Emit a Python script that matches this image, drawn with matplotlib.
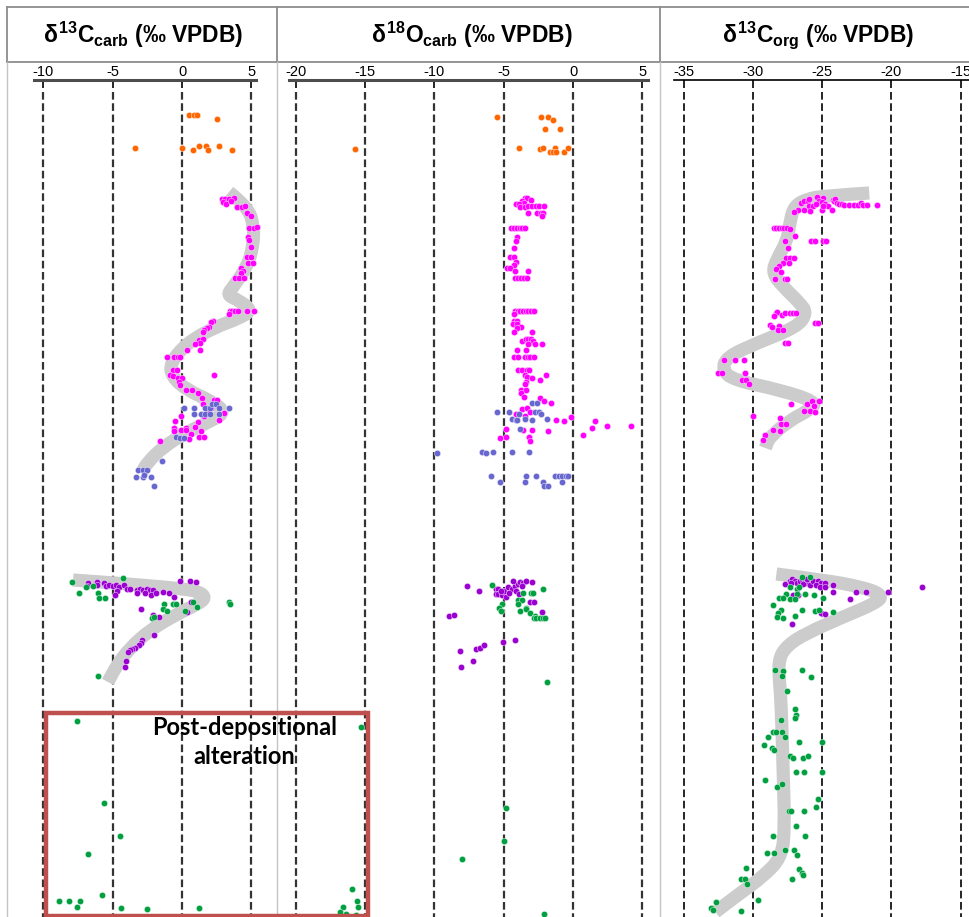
import numpy as np
import matplotlib
matplotlib.use("Agg")
import matplotlib.pyplot as plt
from matplotlib.path import Path
from matplotlib.patches import PathPatch, Rectangle

plt.rcParams['lines.scale_dashes'] = False
plt.rcParams['mathtext.fontset'] = 'custom'
plt.rcParams['mathtext.rm'] = 'Liberation Sans:bold'
plt.rcParams['mathtext.it'] = 'Liberation Sans:bold'
plt.rcParams['mathtext.bf'] = 'Liberation Sans:bold'
plt.rcParams['mathtext.sf'] = 'Liberation Sans:bold'

# ---- data: (value in permil, stratigraphic level) ----
# d13C carb
c13_orange = [(0.5,115),(0.9,115),(1.1,115),(2.5,119),(-3.4,148),(0.0,148),(0.8,150),
              (1.2,146),(1.7,146),(1.9,150),(2.7,146),(3.6,150)]
c13_magenta = [(2.86,199),(3.1,199),(3.39,199),(3.75,198),(2.96,202),(3.17,204),(3.53,201),
               (3.97,207),(4.33,207),(4.54,206),(4.69,213),(4.97,216),(4.83,228),(5.19,228),
               (5.41,227),(4.76,237),(4.83,240),(4.97,247),(4.69,257),(4.97,257),(4.76,263),
               (5.12,263),(4.25,268),(4.4,271),(4.25,273),(3.82,278),(4.11,278),(4.47,278),
               (3.46,311),(3.6,311),(3.82,311),(4.04,311),(4.69,311),(5.19,311),(3.39,314),
               (2.24,321),(2.09,322),(1.95,327),(1.8,328),(1.59,330),(1.51,332),(1.23,340),
               (1.51,339),(1.3,343),(0.94,344),(1.3,350),(0.36,350),(-1.08,357),(-0.58,357),
               (-0.29,357),(-0.14,357),(-0.65,370),(-0.36,370),(-0.87,375),(-0.65,376),
               (2.31,375),(-0.29,378),(0.0,378),(-0.22,382),(-0.14,385),(0.29,390),(0.72,390),
               (1.15,393),(1.44,398),(2.31,400),(2.52,400),(1.51,404),(2.09,408),(1.8,410),
               (1.95,413),(3.03,413),(1.59,416),(-0.07,416),(2.67,420),(1.15,422),(-0.5,421),
               (-0.58,428),(0.29,428),(0.94,427),(-0.07,430),(0.29,430),(1.37,431),(-0.58,431),
               (0.65,434),(1.23,437),(1.59,437),(0.5,439),(-1.59,441)]
c13_blue = [(0.14,408),(0.87,408),(1.66,408),(2.02,408),(2.16,404),(2.45,404),(2.67,408),
            (3.39,408),(0.87,414),(1.37,414),(1.66,414),(2.02,414),(2.67,414),(-0.43,437),
            (-0.14,438),(0.14,438),(-1.44,461),(-3.17,470),(-2.81,470),(-2.52,470),
            (-3.32,477),(-2.81,477),(-2.24,477),(-2.02,486),(-2.74,475)]
c13_purple = [(-6.78,583),(-6.85,586),(-6.13,582),(-6.13,585),(-5.62,583),(-5.48,586),
              (-5.26,585),(-4.97,586),(-4.76,585),(-4.54,587),(-4.18,585),(-3.97,589),
              (-3.75,589),(-4.69,591),(-4.83,595),(-3.24,590),(-3.03,589),(-2.81,590),
              (-2.52,589),(-2.31,590),(-2.09,590),(-3.24,593),(-2.67,593),(-2.24,595),
              (-1.87,593),(-1.37,592),(-0.94,593),(-0.58,597),(-0.14,581),(0.58,581),
              (1.01,582),(0.65,602),(0.36,612),(-2.96,609),(-2.09,615),(-1.66,617),
              (-2.02,635),(-2.88,640),(-2.96,643),(-3.1,645),(-3.39,648),(-3.6,649),
              (-3.75,650),(-3.89,652),(-4.04,661),(-4.11,667)]
c13_green = [(-7.93,582),(-7.43,593),(-6.92,587),(-6.42,586),(-6.06,593),(-5.98,598),
             (-5.55,598),(-4.25,578),(-1.3,604),(-1.37,609),(-1.08,611),(-0.65,604),
             (-0.43,604),(0.22,611),(0.79,602),(1.08,607),(-2.16,618),(-2.02,617),
             (3.39,602),(3.46,604),(-6.06,676),(-7.57,721),(-5.62,803),(-4.47,836),
             (-6.78,854),(-5.77,895),(-8.87,901),(-8.15,901),(-7.35,901),(-7.57,907),
             (-4.4,908),(-2.52,909),(1.23,908)]
c13_trend_upper = [(3.39,192),(4.76,207),(5.19,227),(5.12,247),(4.69,267),(3.68,287),
                   (3.24,295),(4.04,300),(5.05,310),(4.18,318),(2.24,328),(0.36,343),
                   (-0.87,363),(-0.72,377),(0.36,390),(2.24,402),(3.1,412),(2.24,420),
                   (0.36,432),(-1.37,447),(-2.52,463),(-2.88,472)]
c13_trend_lower = [(-7.86,580),(-3.75,584),(0.22,589),(1.3,592),(1.7,598),(1.15,604),
                   (-0.36,614),(-2.31,630),(-3.75,648),(-4.69,665),(-5.34,682)]

# d18O carb
o18_orange = [(-5.5,117),(-2.33,117),(-1.78,117),(-1.42,120),(-2.0,129),(-0.94,129),
              (-15.7,149),(-3.9,148),(-2.4,149),(-2.2,148),(-1.3,148),(-1.66,152),
              (-1.44,152),(-1.2,152),(-0.65,152),(-0.4,148)]
o18_magenta = [(-3.46,198),(-3.29,198),(-3.0,200),(-3.7,201),(-3.53,203),(-4.11,204),
               (-3.89,204),(-3.82,207),(-3.49,207),(-3.25,206),(-2.98,206),(-2.69,206),
               (-2.45,206),(-2.07,206),(-3.25,213),(-2.57,213),(-2.33,213),(-2.14,213),
               (-2.24,216),(-4.47,228),(-4.25,228),(-4.04,228),(-3.85,228),(-3.65,228),
               (-3.46,228),(-4.01,237),(-4.13,241),(-4.23,248),(-4.52,257),(-4.28,257),
               (-4.09,262),(-4.28,265),(-4.76,268),(-4.57,268),(-4.2,271),(-3.27,271),
               (-4.2,278),(-3.99,278),(-3.77,278),(-3.53,278),(-3.34,278),
               (-4.18,311),(-3.99,311),(-3.8,311),(-3.61,311),(-3.41,311),(-3.22,311),
               (-3.03,311),(-2.84,311),(-4.28,314),(-4.23,321),(-4.01,321),(-4.3,324),
               (-4.06,324),(-3.77,327),(-4.06,328),(-4.23,332),(-2.98,332),(-3.65,341),
               (-3.41,339),(-3.22,339),(-3.05,339),(-2.88,341),(-3.22,344),(-2.74,344),
               (-2.24,344),(-4.01,350),(-3.41,350),(-4.23,357),(-3.99,357),(-3.46,357),
               (-3.27,357),(-3.08,357),(-2.81,357),(-3.99,370),(-3.7,370),(-3.34,370),
               (-3.15,370),(-3.46,375),(-1.92,375),(-3.32,377),(-2.98,378),(-2.38,380),
               (-3.37,382),(-3.46,384),(-3.73,390),(-3.41,390),(-3.73,393),(-3.56,397),
               (-2.4,398),(-2.12,401),(-1.61,403),(-3.68,409),(-3.29,408),(-4.11,414),
               (-3.46,416),(-3.08,412),(-1.2,420),(-0.67,421),(-0.12,417),(1.56,421),
               (2.45,426),(4.18,426),(1.37,428),(0.72,435),(-1.8,431),(-2.93,430),
               (-3.63,430),(-4.83,429),(-5.24,438),(-4.81,437),(-3.2,437),(-3.13,441)]
o18_blue = [(-2.98,403),(-2.57,403),(-5.48,412),(-4.59,412),(-3.87,414),(-2.72,412),
            (-2.48,412),(-2.31,414),(-4.42,419),(-4.11,420),(-4.01,420),(-3.44,419),
            (-2.98,420),(-1.85,419),(-3.82,429),(-9.81,453),(-6.59,452),(-6.25,453),
            (-5.75,452),(-4.4,452),(-3.15,452),(-5.91,476),(-5.29,482),(-3.37,476),
            (-2.69,476),(-3.46,482),(-2.16,482),(-2.12,486),(-1.78,486),(-1.27,476),
            (-1.01,476),(-0.77,476),(-0.53,476),(-0.36,476),(-0.79,482)]
o18_purple = [(-7.62,586),(-6.8,591),(-8.97,616),(-8.56,615),(-5.58,589),(-5.38,589),
              (-5.58,594),(-5.38,594),(-5.14,595),(-4.81,597),(-4.98,591),(-4.71,587),
              (-4.38,589),(-4.18,586),(-3.94,584),(-3.82,582),(-3.61,583),(-3.37,581),
              (-4.35,581),(-2.96,582),(-3.7,586),(-4.09,591),(-3.87,594),(-3.1,602),
              (-2.84,602),(-2.24,612),(-5.02,642),(-4.18,640),(-8.15,651),(-7.02,649),
              (-6.7,648),(-6.39,645),(-7.24,661),(-8.05,667),(-4.62,593),(-5.19,591)]
o18_green = [(-5.84,585),(-2.19,589),(-3.63,593),(-3.05,593),(-2.86,593),(-3.99,600),
             (-3.7,600),(-3.99,604),(-5.1,604),(-5.34,608),(-5.22,611),(-3.8,611),
             (-3.41,608),(-3.37,609),(-3.13,613),(-2.76,616),(-2.84,618),(-2.64,618),
             (-2.4,618),(-2.19,618),(-2.0,618),(-1.85,682),(-4.86,808),(-4.98,841),
             (-8.0,859),(-2.12,914),(-15.3,727),(-15.96,889),(-15.58,901),(-16.56,907),
             (-15.5,907),(-16.8,912),(-16.35,914),(-15.63,915)]

# d13C org
corg_magenta = [(-26.54,203),(-26.33,201),(-26.01,201),(-25.94,199),(-25.39,197),(-24.95,198),
                (-25.22,201),(-25.02,202),(-24.78,204),(-24.25,200),(-24.16,201),(-24.06,199),
                (-23.94,203),(-23.75,204),(-23.58,204),(-23.43,205),(-23.05,205),(-22.73,205),
                (-22.4,205),(-22.23,203),(-22.04,205),(-21.75,205),(-21.07,205),(-25.94,206),
                (-25.65,206),(-26.3,210),(-26.73,210),(-27.02,212),(-25.84,211),(-25.02,210),
                (-24.61,206),(-24.28,210),(-24.95,206),(-25.46,204),
                (-28.47,228),(-28.3,228),(-28.11,228),(-27.92,228),(-27.72,228),(-27.53,228),
                (-27.29,229),(-26.95,236),(-27.65,241),(-25.82,241),(-25.55,241),(-24.95,241),
                (-24.73,241),(-27.43,248),(-27.58,258),(-27.34,258),(-27.02,258),(-27.84,263),
                (-27.36,263),(-28.11,266),(-28.3,269),(-27.99,272),(-28.4,279),(-27.7,279),
                (-27.53,279),(-28.35,313),(-28.25,312),(-28.49,316),(-27.89,315),(-27.65,313),
                (-27.31,313),(-27.1,313),(-26.9,313),(-25.51,323),(-25.31,323),(-28.76,325),
                (-28.59,327),(-28.11,326),(-28.2,330),(-27.8,330),(-27.68,343),(-27.48,343),
                (-32.06,360),(-31.27,360),(-30.66,360),(-32.54,373),(-32.25,373),(-30.59,373),
                (-30.78,380),(-30.52,380),(-30.25,384),(-27.27,404),(-26.08,404),(-25.75,401),
                (-25.22,401),(-25.58,406),(-26.3,411),(-25.89,411),(-25.48,412),(-29.96,416),
                (-28.06,418),(-27.94,424),(-27.6,424),(-28.54,430),(-28.01,431),(-29.12,435),
                (-29.29,440)]
corg_purple = [(-27.65,584),(-27.31,581),(-27.14,579),(-26.95,581),(-26.81,583),(-26.61,581),
               (-26.42,579),(-26.25,581),(-26.08,583),(-25.89,585),(-25.65,581),(-25.29,581),
               (-25.1,583),(-24.76,583),(-25.41,585),(-25.14,587),(-24.76,587),(-24.18,585),
               (-24.23,592),(-22.59,592),(-21.8,592),(-20.28,592),(-17.8,587),(-23.0,599),
               (-25.05,613),(-24.78,614),(-27.14,624),(-27.1,595),(-26.73,595),(-27.24,583),
               (-26.37,584),(-26.08,579)]
corg_green = [(-26.47,577),(-25.87,577),(-27.29,587),(-26.81,589),(-26.66,587),(-27.58,594),
              (-26.81,594),(-26.23,594),(-25.6,595),(-28.11,598),(-27.82,598),(-27.34,599),
              (-26.98,599),(-24.93,598),(-28.54,605),(-27.94,610),(-28.2,613),(-28.25,617),
              (-27.84,618),(-26.98,616),(-26.45,610),(-25.48,611),(-25.24,610),(-24.23,612),
              (-28.37,670),(-27.82,671),(-26.47,670),(-25.82,677),(-27.89,676),(-27.51,691),
              (-26.93,709),(-26.88,715),(-26.95,718),(-27.96,720),(-28.52,732),(-28.35,732),
              (-27.92,732),(-28.93,737),(-27.7,737),(-26.64,742),(-24.98,742),(-29.17,745),
              (-28.64,748),(-28.47,750),(-27.34,756),(-27.1,758),(-26.4,758),(-26.04,756),
              (-26.88,772),(-26.33,772),(-25.02,772),(-29.14,780),(-28.25,787),(-27.87,784),
              (-25.31,799),(-25.46,807),(-27.36,811),(-27.22,811),(-26.33,811),(-26.9,826),
              (-28.57,836),(-26.23,836),(-28.95,853),(-28.45,853),(-27.65,850),(-27.0,850),
              (-26.81,855),(-26.69,869),(-26.47,873),(-26.4,875),(-27.17,879),(-30.47,868),
              (-30.83,879),(-30.57,879),(-30.42,884),(-29.65,900),(-32.69,902),(-33.02,908),
              (-32.88,910),(-30.83,911)]
corg_trend_upper = [(-21.6,193),(-24.9,196),(-26.1,199),(-27.0,206),(-27.3,220),(-27.5,240),
                    (-28.3,260),(-28.6,273),(-27.8,287),(-26.6,303),(-26.1,313),(-26.8,327),
                    (-29.7,343),(-31.9,357),(-32.2,370),(-31.4,380),(-28.0,390),(-25.4,402),
                    (-25.9,410),(-27.3,420),(-28.8,437),(-29.1,448)]
corg_trend_lower = [(-28.3,574),(-24.9,580),(-22.1,587),(-20.6,595),(-21.1,603),(-23.5,617),
                    (-26.1,633),(-27.5,645),(-28.2,660),(-28.0,693),(-27.9,727),(-27.8,777),
                    (-27.7,827),(-27.9,857),(-29.3,877),(-30.9,893),(-32.7,912)]

titles = [r'$\delta^{13}C_{carb}$ (‰ VPDB)', r'$\delta^{18}O_{carb}$ (‰ VPDB)',
          r'$\delta^{13}C_{org}$ (‰ VPDB)']
ticks = [[-10, -5, 0, 5], [-20, -15, -10, -5, 0, 5], [-35, -30, -25, -20, -15]]
xlims = [(-12.62, 6.85), (-21.35, 6.27), (-36.7, -14.4)]
spine_bounds = [(-10.7, 5.3), (-20.5, 5.4), (-35.7, -14.4)]

C_ORANGE = '#ff6600'
C_MAGENTA = '#ff00ff'
C_BLUE = '#6767cf'
C_PURPLE = '#9a00d0'
C_GREEN = '#00a040'
C_TREND = '#cccccc'

W, H = 969, 917
fig = plt.figure(figsize=(W / 100, H / 100), dpi=100)
fig.patch.set_facecolor('white')

edges = [7, 277, 660, 969]
title_cx = [143, 472, 818]


def smooth(pts):
    xs = [p[0] for p in pts]
    ys = [p[1] for p in pts]
    verts = [(xs[0], ys[0])]
    codes = [Path.MOVETO]
    for i in range(1, len(xs) - 1):
        verts += [(xs[i], ys[i]), ((xs[i] + xs[i + 1]) / 2, (ys[i] + ys[i + 1]) / 2)]
        codes += [Path.CURVE3, Path.CURVE3]
    verts.append((xs[-1], ys[-1]))
    codes.append(Path.LINETO)
    return Path(verts, codes)


def dots(ax, pts, color):
    ax.scatter([p[0] for p in pts], [p[1] for p in pts], s=21, color=color,
               edgecolors='white', linewidths=0.3, zorder=3, clip_on=False)


panels = [
    dict(series=[(c13_orange, C_ORANGE), (c13_magenta, C_MAGENTA), (c13_blue, C_BLUE),
                 (c13_purple, C_PURPLE), (c13_green, C_GREEN)],
         trends=[c13_trend_upper, c13_trend_lower], thick=True),
    dict(series=[(o18_orange, C_ORANGE), (o18_magenta, C_MAGENTA), (o18_blue, C_BLUE),
                 (o18_purple, C_PURPLE), (o18_green, C_GREEN)],
         trends=[], thick=True),
    dict(series=[(corg_magenta, C_MAGENTA), (corg_purple, C_PURPLE), (corg_green, C_GREEN)],
         trends=[corg_trend_upper, corg_trend_lower], thick=False),
]

axes = []
for i, p in enumerate(panels):
    l, r = edges[i], edges[i + 1]
    ax = fig.add_axes([l / W, 0, (r - l) / W, (H - 80) / H])
    ax.patch.set_visible(False)
    ax.set_xlim(*xlims[i])
    ax.set_ylim(H, 80)
    for s in ['left', 'right', 'bottom']:
        ax.spines[s].set_visible(False)
    ax.spines['top'].set_bounds(*spine_bounds[i])
    if p['thick']:
        ax.spines['top'].set_linewidth(2.2)
        ax.spines['top'].set_color('#4d4d4d')
        dcol, dlw = '#333333', 1.6
    else:
        ax.spines['top'].set_linewidth(1.2)
        ax.spines['top'].set_color('black')
        dcol, dlw = 'black', 1.2
    ax.xaxis.set_ticks_position('top')
    ax.set_xticks(ticks[i])
    ax.set_xticklabels([str(t) for t in ticks[i]], family='Liberation Sans', fontsize=10.5)
    ax.tick_params(axis='x', direction='in', length=6, width=1.2, pad=1, colors='black')
    ax.set_yticks([])
    ax.vlines(ticks[i], 92, H, colors=dcol, linewidth=dlw, linestyles=(0, (5.5, 2.6)), zorder=1)
    for t in p['trends']:
        ax.add_patch(PathPatch(smooth(t), fill=False, edgecolor=C_TREND, lw=9.5,
                               capstyle='butt', joinstyle='round', zorder=2))
    for pts, col in p['series']:
        dots(ax, pts, col)
    axes.append(ax)

# panel frame
frame = dict(color='#8c8c8c', lw=1.3, transform=fig.transFigure)
fig.add_artist(plt.Line2D([7 / W, 1], [1 - 7 / H, 1 - 7 / H], **frame))
fig.add_artist(plt.Line2D([7 / W, 1], [1 - 62 / H, 1 - 62 / H], **frame))
for x in edges[:3]:
    fig.add_artist(plt.Line2D([x / W, x / W], [1 - 7 / H, 1 - 62 / H], **frame))
    fig.add_artist(plt.Line2D([x / W, x / W], [1 - 62 / H, 0], color='#c4c4c4', lw=1.0,
                              transform=fig.transFigure))

for i in range(3):
    fig.text(title_cx[i] / W, 1 - 35 / H, titles[i], ha='center', va='center',
             fontsize=16.5, fontweight='bold', family='Liberation Sans')

# post-depositional alteration box (drawn over both left panels)
ax1 = axes[0]
box = Rectangle((-9.8, 713), 23.2, 203, fill=False, edgecolor='#c0504d', lw=3.2,
                transform=ax1.transData, zorder=5)
fig.add_artist(box)
fig.text(4.5, 742, 'Post-depositional\nalteration', transform=ax1.transData,
         ha='center', va='center', fontsize=17, fontweight='bold', family='Lato',
         linespacing=1.3, zorder=6)

fig.savefig('out.png', dpi=100, facecolor='white')
